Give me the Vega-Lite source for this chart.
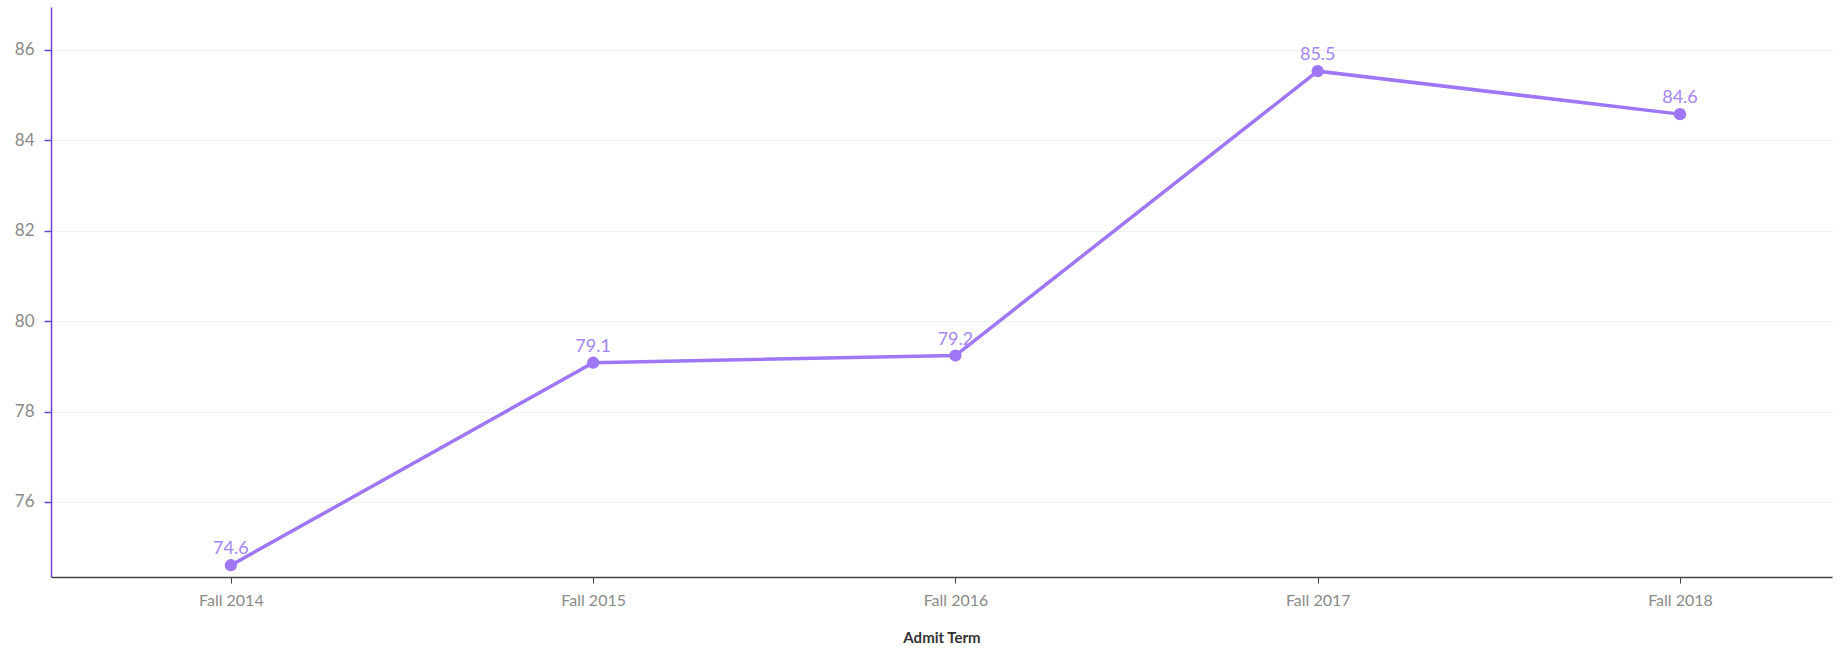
{
  "$schema": "https://vega.github.io/schema/vega-lite/v6.json",
  "width": 1781,
  "height": 570,
  "autosize": {"type": "none"},
  "padding": {"left": 51, "top": 7, "right": 9, "bottom": 75},
  "background": "white",
  "config": {
    "view": {"stroke": null},
    "font": "Lato"
  },
  "data": {
    "values": [
      {"term": "Fall 2014", "value": 74.6},
      {"term": "Fall 2015", "value": 79.08},
      {"term": "Fall 2016", "value": 79.24},
      {"term": "Fall 2017", "value": 85.53},
      {"term": "Fall 2018", "value": 84.58}
    ]
  },
  "encoding": {
    "x": {
      "field": "term",
      "type": "ordinal",
      "sort": null,
      "scale": {"type": "point", "padding": 0.458, "align": 0.542},
      "axis": {
        "title": "Admit Term",
        "titleFont": "Lato",
        "titleFontSize": 15,
        "titleFontWeight": "bold",
        "titleColor": "#333333",
        "titlePadding": 22,
        "labelAngle": 0,
        "labelFont": "Lato",
        "labelFontSize": 16,
        "labelColor": "#8a8a8a",
        "labelPadding": 9,
        "domainColor": "#444444",
        "domainWidth": 1.5,
        "tickColor": "#444444",
        "tickSize": 6,
        "grid": false
      }
    },
    "y": {
      "field": "value",
      "type": "quantitative",
      "scale": {"domain": [74.34, 86.95], "nice": false, "zero": false},
      "axis": {
        "title": null,
        "values": [76, 78, 80, 82, 84, 86],
        "labelFont": "Lato",
        "labelFontSize": 17,
        "labelColor": "#8a8a8a",
        "labelPadding": 10,
        "domainColor": "#6a42d4",
        "domainWidth": 1.5,
        "tickColor": "#6a42d4",
        "tickSize": 7,
        "tickWidth": 1.5,
        "grid": true,
        "gridColor": "#e6e6e6",
        "gridDash": [2, 2],
        "gridWidth": 1
      }
    }
  },
  "layer": [
    {
      "mark": {"type": "line", "color": "#9e76f6", "strokeWidth": 3.5},
      "encoding": {}
    },
    {
      "mark": {"type": "point", "filled": true, "color": "#9e76f6", "size": 150, "opacity": 1},
      "encoding": {}
    },
    {
      "mark": {"type": "text", "color": "#a585f8", "fontSize": 18, "font": "Lato", "baseline": "bottom", "dy": -7},
      "encoding": {
        "text": {"field": "value", "type": "quantitative", "format": ".1f"}
      }
    }
  ]
}
